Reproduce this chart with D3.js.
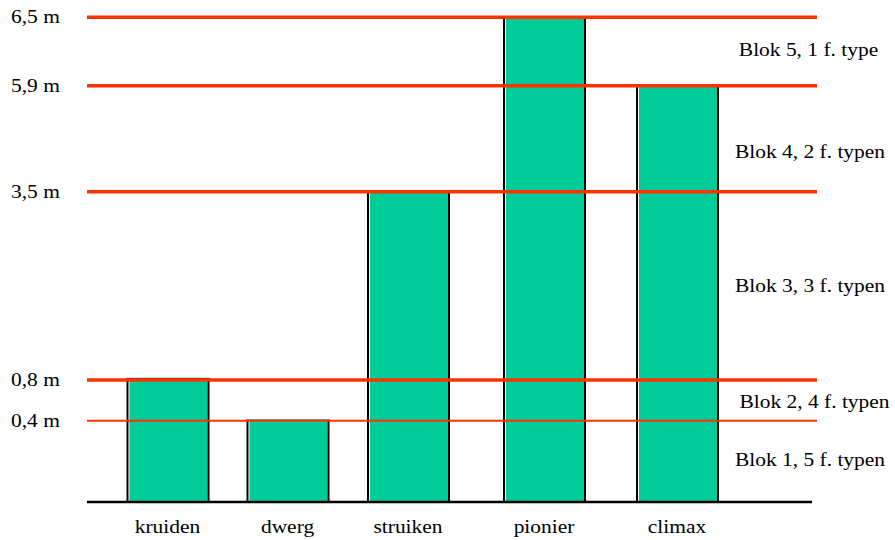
<!DOCTYPE html>
<html>
<head>
<meta charset="utf-8">
<script src="https://cdn.jsdelivr.net/npm/d3@7"></script>
<style>
html,body{margin:0;padding:0;background:#fff;}
</style>
</head>
<body>
<svg id="chart" width="895" height="540"></svg>
<script>
// ---- data ----
const categories = ["kruiden", "dwerg", "struiken", "pionier", "climax"];
const heights = [0.83, 0.41, 3.5, 6.5, 5.9];
const boundaries = [0.4, 0.8, 3.5, 5.9, 6.5];
const tickLabels = ["0,4 m", "0,8 m", "3,5 m", "5,9 m", "6,5 m"];
const blockLabels = ["Blok 1, 5 f. typen", "Blok 2, 4 f. typen", "Blok 3, 3 f. typen", "Blok 4, 2 f. typen", "Blok 5, 1 f. type"];

// ---- layout ----
const svg = d3.select("#chart");
const RED = "#FF3300", GREEN = "#00CC99";
const FONT = "'Liberation Serif', 'Times New Roman', Times, serif";
const xLeft = 87, xRight = 817, baseRight = 812;

// piecewise (polylinear) scale matching the original non-uniform axis
const y = d3.scaleLinear()
  .domain([0, 0.4, 0.8, 3.5, 5.9, 6.5])
  .range([502, 420.7, 380, 191.7, 85.7, 17.3]);

const x = d3.scaleOrdinal()
  .domain(categories)
  .range([167.5, 287.5, 408, 544, 677]);
const barW = 82;

const SX = 1.1; // horizontal text stretch
function txt(sel, tx, ty, anchor, size) {
  return sel.append("text")
    .attr("transform", `translate(${tx},${ty}) scale(${SX},1)`)
    .attr("text-anchor", anchor)
    .attr("font-family", FONT)
    .style("font-family", FONT)
    .style("font-size", size + "px")
    .attr("fill", "#000");
}

// bars
const bars = svg.append("g").selectAll("g").data(categories).join("g");
bars.each(function(c, i) {
  const g = d3.select(this);
  const x0 = x(c) - barW / 2, x1 = x(c) + barW / 2;
  const yt = y(heights[i]), yb = y(0);
  g.append("rect").attr("x", x0 + 3).attr("y", yt).attr("width", x1 - x0 - 4).attr("height", yb - yt).attr("fill", GREEN);
  g.append("line").attr("x1", x0 + 1).attr("x2", x0 + 1).attr("y1", yt).attr("y2", yb).attr("stroke", "#000").attr("stroke-width", 2);
  g.append("line").attr("x1", x1).attr("x2", x1).attr("y1", yt).attr("y2", yb).attr("stroke", "#000").attr("stroke-width", 2);
  g.append("line").attr("x1", x0).attr("x2", x1 + 1).attr("y1", yt + 0.5).attr("y2", yt + 0.5).attr("stroke", "#000").attr("stroke-width", 1);
});

// baseline
svg.append("line").attr("x1", xLeft).attr("x2", baseRight).attr("y1", y(0)).attr("y2", y(0))
  .attr("stroke", "#000").attr("stroke-width", 2.5);

// red boundary lines
svg.append("g").selectAll("line").data(boundaries).join("line")
  .attr("x1", xLeft).attr("x2", xRight)
  .attr("y1", d => y(d)).attr("y2", d => y(d))
  .attr("stroke", RED)
  .attr("stroke-width", d => d === 0.4 ? 2 : 3.5);

// tick labels
boundaries.forEach((b, i) => {
  txt(svg, 11, y(b) + 6, "start", 19.5).text(tickLabels[i]);
});

// category labels
categories.forEach(c => {
  txt(svg, x(c), 533, "middle", 19.5).text(c);
});

// block labels
const edges = [0].concat(boundaries);
const yAdj = [5, 8, 6, 19, 4];
const xAdj = [810, 814.5, 810, 810, 808.5];
blockLabels.forEach((t, i) => {
  const mid = (y(edges[i]) + y(edges[i + 1])) / 2;
  txt(svg, xAdj[i], mid + yAdj[i], "middle", 19.5).text(t);
});
</script>
</body>
</html>
